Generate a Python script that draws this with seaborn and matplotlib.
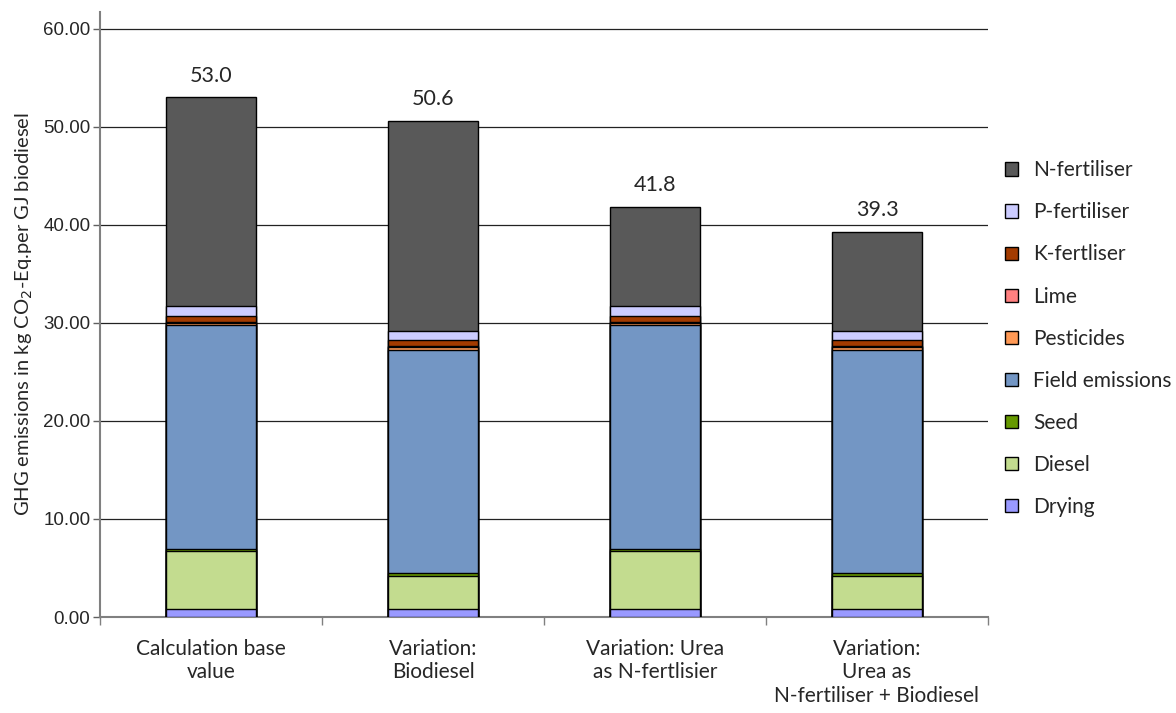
import numpy as np
import pandas as pd
import matplotlib
matplotlib.use("Agg")
import matplotlib.pyplot as plt
import seaborn as sns
from matplotlib.patches import Patch
from matplotlib.ticker import FormatStrFormatter, FixedLocator

# data (kg CO2-Eq. per GJ biodiesel)
scenarios = ["Calculation base\nvalue", "Variation:\nBiodiesel",
             "Variation: Urea\nas N-fertlisier", "Variation:\nUrea as\nN-fertiliser + Biodiesel"]
drying = [0.8, 0.8, 0.8, 0.8]
diesel = [5.9, 3.4, 5.9, 3.4]
seed = [0.25, 0.25, 0.25, 0.25]
field_emissions = [22.8, 22.8, 22.8, 22.8]
pesticides = [0.25, 0.25, 0.25, 0.25]
lime = [0.1, 0.1, 0.1, 0.1]
k_fertiliser = [0.6, 0.6, 0.6, 0.6]
p_fertiliser = [1.0, 1.0, 1.0, 1.0]
n_fertiliser = [21.3, 21.4, 10.1, 10.1]
totals = ["53.0", "50.6", "41.8", "39.3"]

# stacking order, bottom to top
components = ["Drying", "Diesel", "Seed", "Field emissions", "Pesticides",
              "Lime", "K-fertliser", "P-fertiliser", "N-fertiliser"]
values = [drying, diesel, seed, field_emissions, pesticides,
          lime, k_fertiliser, p_fertiliser, n_fertiliser]
colors = ["#9999FF", "#C3DC8F", "#669900", "#7396C4", "#FF9955",
          "#FF8080", "#A33B00", "#CCCCFF", "#595959"]

sns.set_style("white")
plt.rcParams["font.family"] = ["Lato", "DejaVu Sans"]

fig = plt.figure(figsize=(11.76, 7.13), dpi=100)
ax = fig.add_axes([100 / 1176, 1 - 617 / 713, 888 / 1176, 605 / 713])

cum = np.cumsum(np.array(values), axis=0)
# draw tallest cumulative bars first, lower ones cover them
for i in range(len(components) - 1, -1, -1):
    df = pd.DataFrame({"scenario": scenarios, "value": cum[i]})
    sns.barplot(data=df, x="scenario", y="value", color=colors[i], saturation=1,
                width=0.405, edgecolor="black", linewidth=1.0, ax=ax, zorder=3)

for j, t in enumerate(totals):
    ax.text(j, cum[-1][j] + 1.2, t, ha="center", va="bottom", fontsize=15.5)

ax.set_xlim(-0.5, 3.5)
ax.set_ylim(0, 61.7)
ax.set_yticks(np.arange(0, 61, 10))
ax.yaxis.set_major_formatter(FormatStrFormatter("%.2f"))
for lbl in ax.get_yticklabels():
    lbl.set_fontfamily("Liberation Sans")
ax.tick_params(axis="y", labelsize=13.5, length=5, width=1, color="#606060", direction="out", left=True, pad=2)
ax.grid(axis="y", color="#222222", linewidth=0.9, zorder=0)
ax.set_axisbelow(True)

ax.xaxis.set_minor_locator(FixedLocator([-0.5, 0.5, 1.5, 2.5, 3.5]))
ax.tick_params(axis="x", which="major", length=0, pad=16, labelsize=15)
ax.tick_params(axis="x", which="minor", length=6, width=1, color="#808080", direction="out", bottom=True)

for s in ["top", "right"]:
    ax.spines[s].set_visible(False)
for s in ["left", "bottom"]:
    ax.spines[s].set_color("#808080")
    ax.spines[s].set_linewidth(1.5)

ax.set_xlabel("")
ax.set_ylabel("GHG emissions in kg CO$_2$-Eq.per GJ biodiesel", fontsize=14.5, labelpad=6)

handles = [Patch(facecolor=c, edgecolor="black", linewidth=1, label=n)
           for n, c in zip(components, colors)][::-1]
fig.legend(handles=handles, loc="upper left", bbox_to_anchor=(997 / 1176, 1 - 152 / 713),
           frameon=False, fontsize=15, handlelength=0.6, handleheight=0.6,
           handletextpad=0.75, labelspacing=1.06, borderaxespad=0)

fig.savefig("out.png", dpi=100)
